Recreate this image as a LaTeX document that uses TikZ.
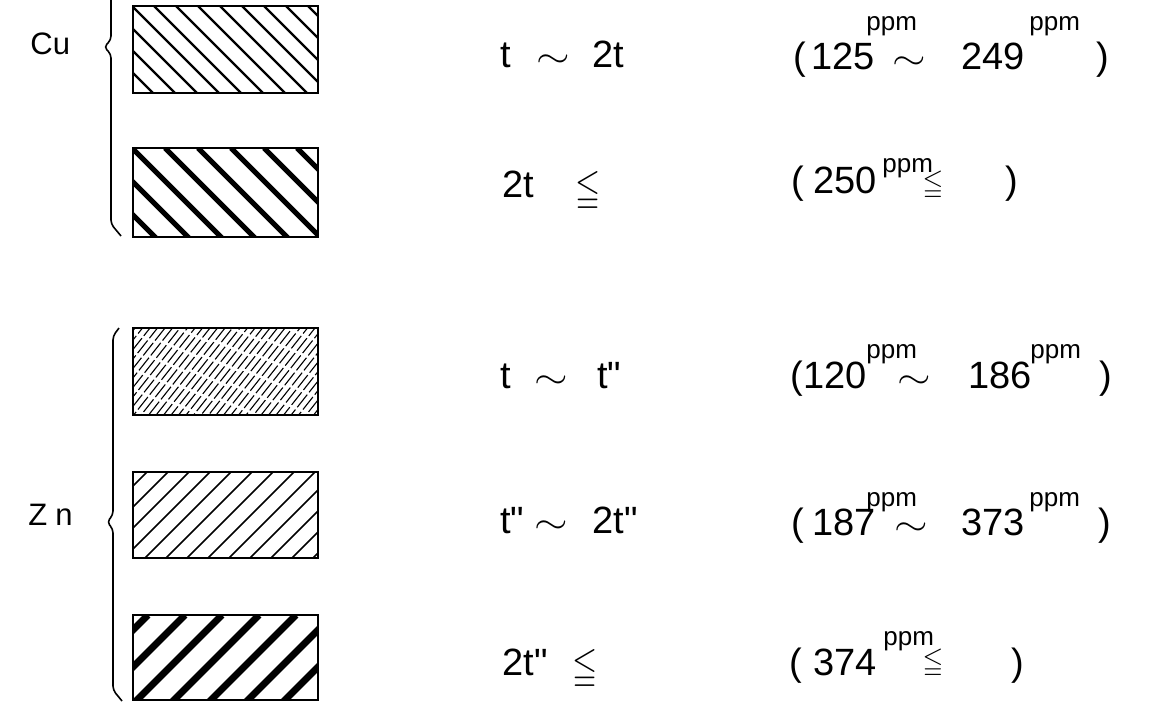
\documentclass[tikz,border=0pt]{standalone}
\usepackage{amssymb}
\usepackage{graphicx}
\usepackage{fontspec}
\setmainfont{Liberation Sans}
\tikzset{
  x=0.5pt, y=-0.5pt,
  val/.style={font=\fontsize{19}{22}\selectfont, inner sep=0pt, anchor=base west},
  unit/.style={font=\fontsize{13}{15}\selectfont, inner sep=0pt, anchor=base west},
  elem/.style={font=\fontsize{15.5}{18}\selectfont, inner sep=0pt, anchor=base west},
  boxline/.style={line width=1.4pt},
  brace/.style={line width=0.8pt, line join=round, rounded corners=2pt}
}
\newcommand\leqbig{\scalebox{0.85}[1.05]{$\leqq$}}
\newcommand\leqsmall{\scalebox{0.7}[0.75]{$\leqq$}}
\newcommand\tld{\scalebox{1.25}[1]{$\sim$}}
\newcommand\tdq{t\textquotedbl}
% top, bottom, run per 120 down, step, width, extra
\newcommand\hatchbox[6]{%
  \begin{scope}
    \clip (133,#1) rectangle (318,#2);
    \foreach \hx in {0,#4,...,460} {
      \pgfmathsetmacro\hph{mod(\hx*13,11)}
      \draw[line width=#5,#6] (\hx,#1) -- ++(#3,120);
    }
  \end{scope}
  \draw[boxline] (133,#1) rectangle (318,#2);
}

\begin{document}
\begin{tikzpicture}
  \useasboundingbox (0,0) rectangle (1152,717);
  % legend boxes
  \hatchbox{6}{93}{120}{22}{1.1pt}{}
  \hatchbox{148}{237}{120}{33}{2.6pt}{}
  \hatchbox{328}{415}{-95}{7.5}{0.55pt}{dash pattern=on 8pt off 1.5pt, dash phase=\hph pt}
  \hatchbox{472}{558}{-120}{21}{0.8pt}{}
  \hatchbox{615}{700}{-120}{37}{3.4pt}{}
  % braces
  \draw[brace] (111,-10) -- (111,40) -- (104,47) -- (111,54) -- (111,224) -- (121,236);
  \draw[brace] (119,328) -- (113,336) -- (113,515) -- (107,522) -- (113,529) -- (113,690) -- (122,701);
  \node[elem] (cu) at (30,55) {Cu};
  \node[elem] (zn) at (28,525) {Z\hspace{4pt}n};
  % left column
  \foreach \x/\y/\s [count=\k] in {500/68/t, 536/68/\tld, 592/68/2t,
      502/198/2t, 575/202/\leqbig,
      500/388/t, 534/388/\tld, 597/388/\tdq,
      500/533/\tdq, 534/533/\tld, 592/533/2\tdq,
      502/675/2\tdq, 572/679/\leqbig}
    \node[val] (l\k) at (\x,\y) {\s};
  % right column
  \foreach \x/\y/\s [count=\k] in {793/70/(, 811/70/125, 892/70/\tld, 961/70/249, 1096/70/),
      791/193/(, 813/193/250, 1005/193/),
      790/388/(, 803/388/120, 897/388/\tld, 968/388/186, 1099/388/),
      791/535/(, 812/535/187, 894/535/\tld, 961/535/373, 1098/535/),
      789/675/(, 813/675/374, 1011/675/)}
    \node[val] (r\k) at (\x,\y) {\s};
  \foreach \x/\y [count=\k] in {866/31, 1029/31, 882/172, 866/358, 1030/358,
      866/506, 1029/506, 883/645}
    \node[unit] (u\k) at (\x,\y) {ppm};
  \node[val, anchor=center] (q1) at (933,185) {\leqsmall};
  \node[val, anchor=center] (q2) at (933,663) {\leqsmall};
\end{tikzpicture}
\end{document}
